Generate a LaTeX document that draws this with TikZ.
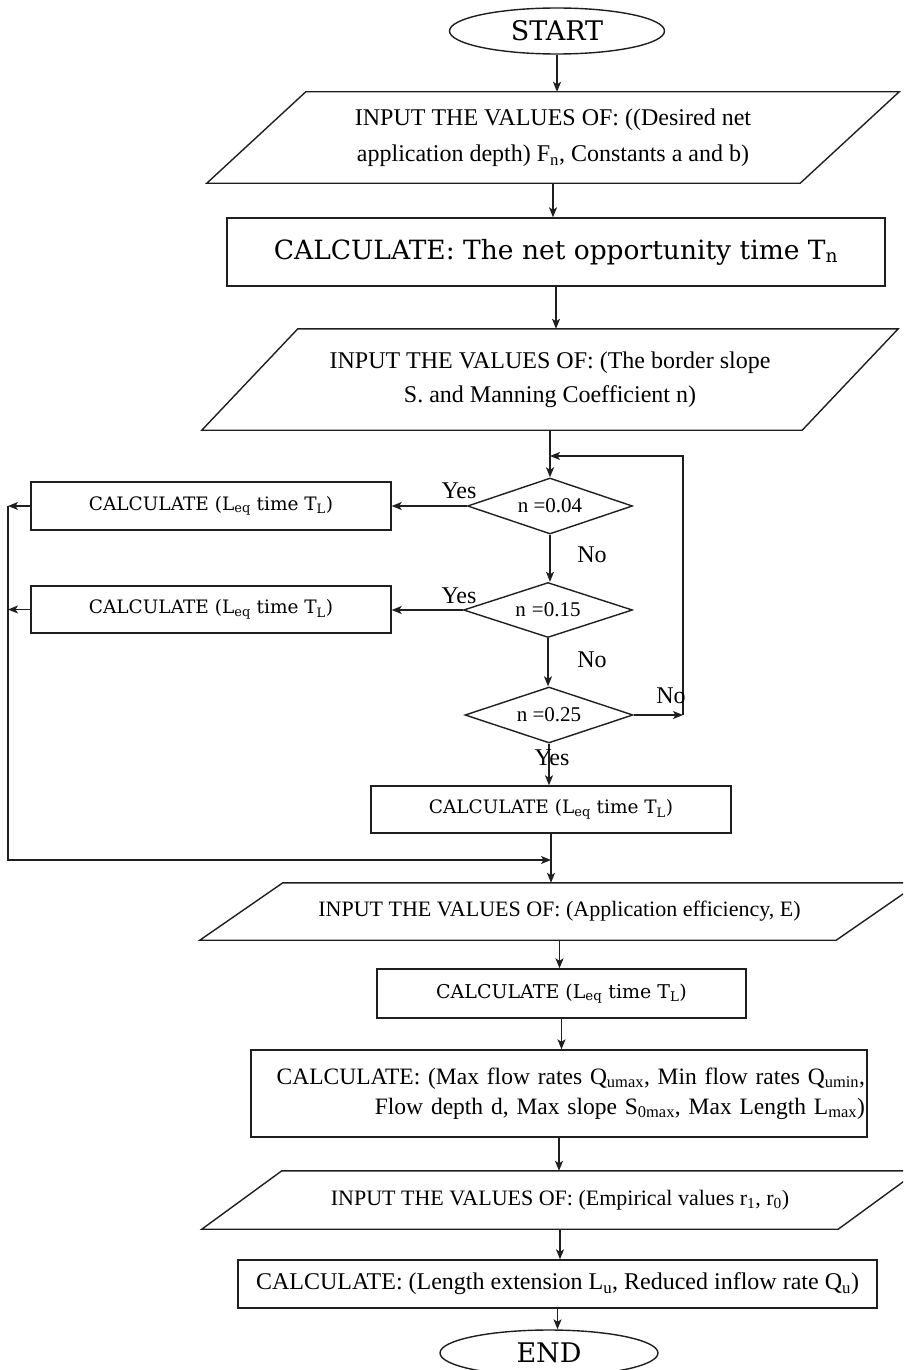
\documentclass[tikz,border=0pt]{standalone}
\usepackage{fontspec}
\setmainfont{Liberation Serif}
\newfontfamily\djs{DejaVu Serif}
\usetikzlibrary{shapes.geometric,arrows.meta,calc}
\newcommand\fsz[2]{\fontsize{#1}{#2}\selectfont}
\newcommand\parabox[2]{\draw[line width=1.4pt,black!88] ($(#1.north west)+(0.5*#2,0)$) -- ($(#1.north east)+(0.5*#2,0)$) -- ($(#1.south east)+(-0.5*#2,0)$) -- ($(#1.south west)+(-0.5*#2,0)$) -- cycle;}
\begin{document}
\begin{tikzpicture}[x=1pt,y=-1pt,
  arr/.style={-{Stealth[length=10pt,width=8pt,inset=2.5pt]}, line width=1.3pt, black!88},
  proc/.style={draw=black!88, rectangle, inner sep=0pt, line width=1.4pt},
  io/.style={rectangle, inner sep=0pt, align=center},
  term/.style={draw=black!88, ellipse, inner sep=0pt, line width=1.4pt},
  dec/.style={draw=black!88, diamond, inner sep=0pt, aspect=3, line width=1.4pt, font=\fsz{21}{21}},
  lbl/.style={inner sep=0pt, font=\fsz{24}{24}}
]
\fill[white] (0,0) rectangle (903,1370);
\useasboundingbox (0,0) rectangle (903,1370);
\clip (0,0) rectangle (903,1370);

% terminals
\node[term, minimum width=215pt, minimum height=46pt, font=\djs\fsz{27}{27}] (start) at (557,31) {START};

% input 1
\node[io, minimum width=593pt, minimum height=91pt, font=\fsz{24}{36}] (p1) at (553,137.5)
  {INPUT THE VALUES OF: ((Desired net\\application depth) F\textsubscript{n}, Constants a and b)};
\parabox{p1}{99}

% calculate Tn
\node[proc, minimum width=658pt, minimum height=68pt, font=\djs\fsz{26.5}{26.5}] (c1) at (556,252)
  {CALCULATE: The net opportunity time T\textsubscript{n}};

% input 2
\node[io, minimum width=600pt, minimum height=101pt, font=\fsz{24}{34}] (p2) at (550,379.5)
  {INPUT THE VALUES OF: (The border slope\\S. and Manning Coefficient n)};
\parabox{p2}{96}

% decisions
\node[dec, minimum width=165pt, minimum height=56pt] (d1) at (550,506) {n =0.04};
\node[dec, minimum width=169pt, minimum height=55pt] (d2) at (548,610) {n\hspace{6pt}=0.15};
\node[dec, minimum width=168pt, minimum height=56pt] (d3) at (549,715) {n =0.25};

% calculate boxes
\node[proc, minimum width=360pt, minimum height=48pt, font=\djs\fsz{18.5}{18.5}] (l1) at (211,506)
  {CALCULATE (L\textsubscript{eq} time T\textsubscript{L})};
\node[proc, minimum width=360pt, minimum height=47pt, font=\djs\fsz{18.5}{18.5}] (l2) at (211,609.5)
  {CALCULATE (L\textsubscript{eq} time T\textsubscript{L})};
\node[proc, minimum width=360pt, minimum height=47pt, font=\djs\fsz{18.5}{18.5}] (l3) at (551,809.5)
  {CALCULATE (L\textsubscript{eq} time T\textsubscript{L})};

% input 3
\node[io, minimum width=636pt, minimum height=57pt, font=\fsz{22}{22}] (p3) at (559.5,911.5)
  {INPUT THE VALUES OF: (Application efficiency, E)};
\parabox{p3}{83}

\node[proc, minimum width=369pt, minimum height=49pt, font=\djs\fsz{19}{19}] (c4) at (561.5,993.5)
  {CALCULATE (L\textsubscript{eq} time T\textsubscript{L})};

\node[proc, minimum width=616pt, minimum height=87pt, align=right, text width=612pt, font=\fsz{23.5}{30}] (c5) at (559,1093.5)
  {\mbox{CALCULATE: (Max flow rates Q\textsubscript{umax}, Min flow rates Q\textsubscript{umin},}\\
   \mbox{Flow depth d, Max slope S\textsubscript{0max}, Max Length L\textsubscript{max})}};

% input 4
\node[io, minimum width=636pt, minimum height=58pt, font=\fsz{22}{22}] (p4) at (560,1200)
  {INPUT THE VALUES OF: (Empirical values r\textsubscript{1}, r\textsubscript{0})};
\parabox{p4}{80}

\node[proc, minimum width=639pt, minimum height=48pt, font=\fsz{24}{24}] (c6) at (557.5,1284)
  {CALCULATE: (Length extension L\textsubscript{u}, Reduced inflow rate Q\textsubscript{u})};

\node[term, minimum width=218pt, minimum height=46pt, font=\djs\fsz{27}{27}] (end) at (549,1353) {END};

% main flow
\draw[arr] (start.south) -- (start.south |- p1.north);
\draw[arr] (p1.south) -- (p1.south |- c1.north);
\draw[arr] (c1.south) -- (c1.south |- p2.north);
\draw[arr] (p2.south) -- (p2.south |- d1.north);
\draw[arr] (d1.south) -- (d1.south |- d2.north);
\draw[arr] (d2.south) -- (d2.south |- d3.north);
\draw[arr] (d3.south) -- (d3.south |- l3.north);
\draw[arr] (l3.south) -- (l3.south |- p3.north);
\draw[arr] (p3.south) -- (p3.south |- c4.north);
\draw[arr] (c4.south) -- (c4.south |- c5.north);
\draw[arr] (c5.south) -- (c5.south |- p4.north);
\draw[arr] (p4.south) -- (p4.south |- c6.north);
\draw[arr] (c6.south) -- (c6.south |- end.north);

% yes branches
\draw[arr] (d1.west) -- (d1.west -| l1.east);
\draw[arr] (d2.west) -- (d2.west -| l2.east);
\coordinate (bend) at (8,860);
\draw[arr] (l1.west) -- (l1.west -| bend);
\draw[arr] (l2.west) -- (l2.west -| bend);
\draw[arr] (l1.west -| bend) -- (bend) -- (bend -| l3.south);

% no loop
\coordinate (lp) at (683,456);
\draw[arr] (d3.east) -- (d3.east -| lp);
\draw[arr] (d3.east -| lp) -- (lp) -- (lp -| d1.north);

% labels
\node[lbl] (y1) at (459,491) {Yes};
\node[lbl] (y2) at (459,596) {Yes};
\node[lbl] (y3) at (552,758) {Yes};
\node[lbl] (n1) at (592,555) {No};
\node[lbl] (n2) at (592,660) {No};
\node[lbl] (n3) at (671,696) {No};
\end{tikzpicture}
\end{document}
